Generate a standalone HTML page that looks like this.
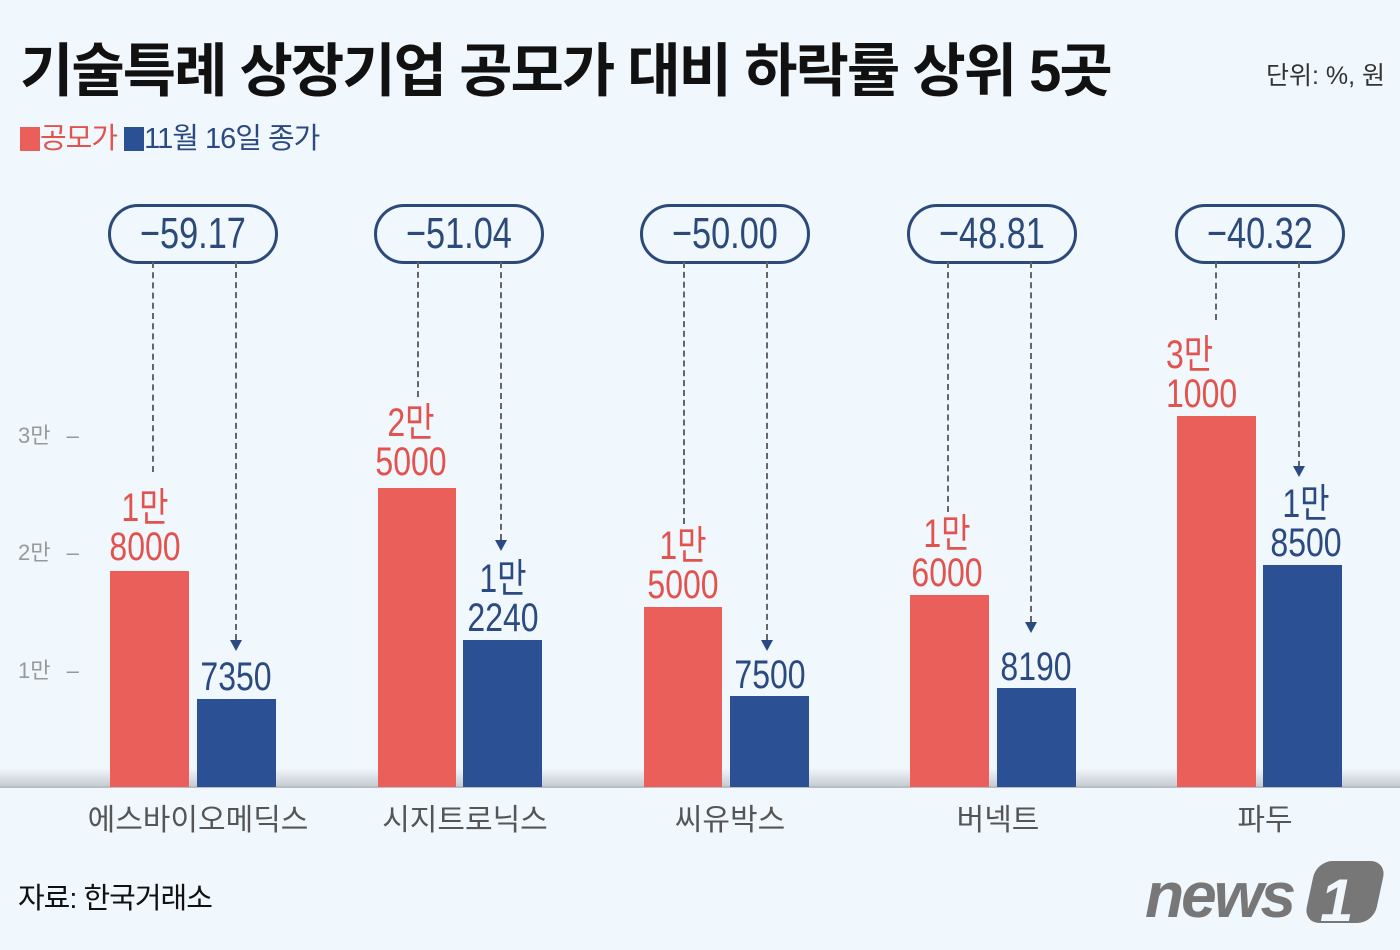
<!DOCTYPE html>
<html><head><meta charset="utf-8"><style>
body{margin:0;width:1400px;height:950px;background:#f0f7fd;position:relative;overflow:hidden;font-family:"Liberation Sans","Noto Sans CJK KR",sans-serif}
.a{position:absolute;white-space:nowrap}
.bar{position:absolute}
.r{background:#eb5f5a}.b{background:#2b5093}
.pill{position:absolute;top:204px;width:164px;height:54px;border:3px solid #2b4a7a;border-radius:30px;text-align:center;line-height:54px;font-size:44px;color:#2b4a7a;background:#f0f7fd}
.pill span{display:inline-block;transform:scaleX(0.78)}
.num{position:absolute;font-family:"Liberation Sans","Noto Sans CJK KR",sans-serif;font-size:40px;line-height:39px;text-align:center;width:100px;transform:scaleX(0.8)}
.rn{color:#e3534e}.bn{color:#2b4a82}
.dl{position:absolute;border-left:2px dashed #666;width:0}
.ar{position:absolute;width:0;height:0;border-left:6px solid transparent;border-right:6px solid transparent;border-top:11px solid #2b4a82}
.cat{position:absolute;top:795px;font-size:30px;color:#555;text-align:center;width:300px}
.tk{position:absolute;left:18px;font-size:22px;color:#999}
</style></head><body>
<div class="a" style="left:20px;top:24px;font-size:58px;font-weight:bold;color:#111;letter-spacing:-2px">기술특례 상장기업 공모가 대비 하락률 상위 5곳</div>
<div class="a" style="right:15px;top:56px;font-size:25px;color:#333">단위: %, 원</div>
<div class="a" style="left:20px;top:115px;font-size:29px;color:#e3534e;letter-spacing:-1px"><span style="display:inline-block;width:20px;height:24px;background:#eb5f5a;vertical-align:-3px"></span>공모가 <span style="color:#2b4a82"><span style="display:inline-block;width:20px;height:24px;background:#2b5093;vertical-align:-3px"></span>11월 16일 종가</span></div>

<div class="tk" style="top:418px">3만 <span style="margin-left:10px">–</span></div>
<div class="tk" style="top:535px">2만 <span style="margin-left:10px">–</span></div>
<div class="tk" style="top:653px">1만 <span style="margin-left:10px">–</span></div>

<div class="bar" style="left:0;top:768px;width:1400px;height:18px;background:linear-gradient(#f0f7fd,#c7ccd2)"></div>
<div class="bar" style="left:0;top:786px;width:1400px;height:2px;background:#b9bec4"></div>

<!-- g1 -->
<div class="bar r" style="left:110px;top:571px;width:79px;height:216px"></div>
<div class="bar b" style="left:197px;top:699px;width:79px;height:88px"></div>
<div class="pill" style="left:108px"><span>−59.17</span></div>
<div class="dl" style="left:152px;top:262px;height:210px"></div>
<div class="dl" style="left:235px;top:262px;height:378px"></div><div class="ar" style="left:230px;top:640px"></div>
<div class="num rn" style="left:95px;top:489px">1만<br>8000</div>
<div class="num bn" style="left:186px;top:658px">7350</div>
<div class="cat" style="left:48px">에스바이오메딕스</div>

<!-- g2 -->
<div class="bar r" style="left:378px;top:488px;width:78px;height:299px"></div>
<div class="bar b" style="left:463px;top:640px;width:79px;height:147px"></div>
<div class="pill" style="left:374px"><span>−51.04</span></div>
<div class="dl" style="left:417px;top:262px;height:135px"></div>
<div class="dl" style="left:500px;top:262px;height:278px"></div><div class="ar" style="left:495px;top:540px"></div>
<div class="num rn" style="left:361px;top:404px">2만<br>5000</div>
<div class="num bn" style="left:453px;top:560px">1만<br>2240</div>
<div class="cat" style="left:315px">시지트로닉스</div>

<!-- g3 -->
<div class="bar r" style="left:644px;top:607px;width:78px;height:180px"></div>
<div class="bar b" style="left:730px;top:696px;width:79px;height:91px"></div>
<div class="pill" style="left:640px"><span>−50.00</span></div>
<div class="dl" style="left:683px;top:262px;height:262px"></div>
<div class="dl" style="left:766px;top:262px;height:378px"></div><div class="ar" style="left:761px;top:640px"></div>
<div class="num rn" style="left:633px;top:527px">1만<br>5000</div>
<div class="num bn" style="left:720px;top:656px">7500</div>
<div class="cat" style="left:580px">씨유박스</div>

<!-- g4 -->
<div class="bar r" style="left:910px;top:595px;width:79px;height:192px"></div>
<div class="bar b" style="left:997px;top:688px;width:79px;height:99px"></div>
<div class="pill" style="left:907px"><span>−48.81</span></div>
<div class="dl" style="left:947px;top:262px;height:250px"></div>
<div class="dl" style="left:1030px;top:262px;height:360px"></div><div class="ar" style="left:1025px;top:622px"></div>
<div class="num rn" style="left:897px;top:515px">1만<br>6000</div>
<div class="num bn" style="left:986px;top:648px">8190</div>
<div class="cat" style="left:848px">버넥트</div>

<!-- g5 -->
<div class="bar r" style="left:1177px;top:416px;width:79px;height:371px"></div>
<div class="bar b" style="left:1263px;top:565px;width:79px;height:222px"></div>
<div class="pill" style="left:1175px"><span>−40.32</span></div>
<div class="dl" style="left:1215px;top:262px;height:58px"></div>
<div class="dl" style="left:1298px;top:262px;height:205px"></div><div class="ar" style="left:1293px;top:466px"></div>
<div class="num rn" style="left:1166px;top:336px;text-align:left;transform-origin:left">3만<br>1000</div>
<div class="num bn" style="left:1256px;top:485px">1만<br>8500</div>
<div class="cat" style="left:1115px">파두</div>

<div class="a" style="left:18px;top:875px;font-size:29px;color:#111;letter-spacing:-1px">자료: 한국거래소</div>
<div class="a" style="left:1145px;top:858px;font-size:64px;font-weight:bold;font-style:italic;color:#777;letter-spacing:-3px;font-family:'Liberation Sans',sans-serif">news</div>
<div class="a" style="left:1310px;top:861px;width:70px;height:62px;background:#777;border-radius:16px;transform:skewX(-12deg)"></div>
<div class="a" style="left:1320px;top:866px;font-size:60px;font-weight:bold;font-style:italic;color:#f0f7fd">1</div>
</body></html>
